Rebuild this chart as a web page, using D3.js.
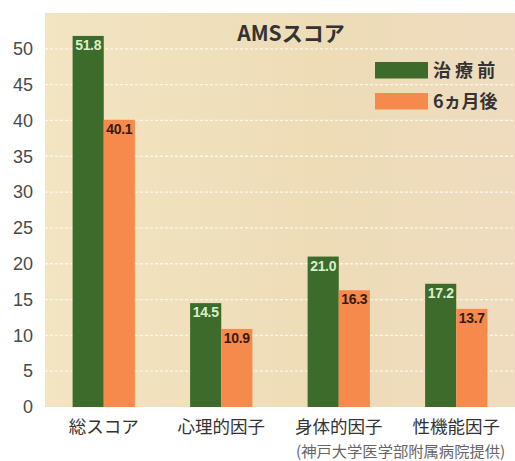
<!DOCTYPE html>
<html><head><meta charset="utf-8">
<script src="https://cdn.jsdelivr.net/npm/d3@7/dist/d3.min.js"></script>
<style>body{margin:0;background:#fff;}svg{display:block;}</style>
</head><body>
<svg id="c" width="515" height="461"></svg>
<script>
const categories = ["総スコア", "心理的因子", "身体的因子", "性機能因子"];
const seriesNames = ["治 療 前", "6ヵ月後"];
const before = [51.8, 14.5, 21.0, 17.2];
const after = [40.1, 10.9, 16.3, 13.7];
const yTicks = [0, 5, 10, 15, 20, 25, 30, 35, 40, 45, 50];
const colors = ["#3d6b2b", "#f58a4c"];

const svg = d3.select("#c");
const font = "'Noto Sans CJK JP', 'Noto Sans', sans-serif";
const L = 45, R = 515, T = 13, B = 407;

const y = d3.scaleLinear().domain([0, 55]).range([B, T]);
const x = d3.scaleBand().domain(categories).range([L, R]).paddingInner(0.47).paddingOuter(0.235);
const xs = d3.scaleBand().domain([0, 1]).range([0, x.bandwidth()]);

// background
const defs = svg.append("defs");
const g1 = defs.append("linearGradient").attr("id", "bg").attr("x1", 0).attr("x2", 1).attr("y1", 0).attr("y2", 0);
g1.append("stop").attr("offset", "0%").attr("stop-color", "#f3e4c2");
g1.append("stop").attr("offset", "60%").attr("stop-color", "#eddcb6");
g1.append("stop").attr("offset", "100%").attr("stop-color", "#efdcc0");
svg.append("rect").attr("x", L).attr("y", T).attr("width", R - L).attr("height", B - T).attr("fill", "url(#bg)");

// grid
svg.append("g").selectAll("line").data(yTicks.filter(d => d > 0)).join("line")
  .attr("x1", L).attr("x2", R).attr("y1", d => y(d)).attr("y2", d => y(d))
  .attr("stroke", "#fffaf0").attr("stroke-width", 1.3).attr("stroke-dasharray", "3,2").attr("opacity", 0.9);

// y axis
const ya = svg.append("g").attr("transform", `translate(${L},0)`)
  .call(d3.axisLeft(y).tickValues(yTicks).tickSize(0).tickPadding(12));
ya.select(".domain").remove();
ya.selectAll("text").attr("font-family", "'Liberation Sans', Arial, sans-serif").attr("font-size", 18).attr("fill", "#4a4a4a");

// x axis
const xa = svg.append("g").attr("transform", `translate(0,${B})`)
  .call(d3.axisBottom(x).tickSize(0).tickPadding(14));
xa.select(".domain").remove();
xa.selectAll("text").attr("font-family", font).attr("font-size", 17.5).attr("fill", "#333");

// bars
const data = categories.map((c, i) => ({c, v: [before[i], after[i]]}));
const grp = svg.append("g").selectAll("g").data(data).join("g")
  .attr("transform", d => `translate(${x(d.c)},0)`);
grp.selectAll("rect").data(d => d.v.map((v, k) => ({v, k}))).join("rect")
  .attr("x", d => xs(d.k)).attr("width", xs.bandwidth())
  .attr("y", d => y(d.v)).attr("height", d => B - y(d.v))
  .attr("fill", d => colors[d.k]);
grp.selectAll("text").data(d => d.v.map((v, k) => ({v, k}))).join("text")
  .attr("x", d => xs(d.k) + xs.bandwidth() / 2).attr("y", d => y(d.v) + 14)
  .attr("text-anchor", "middle")
  .attr("font-family", "'Liberation Sans Narrow', 'Liberation Sans', Arial, sans-serif")
  .attr("font-weight", "bold").attr("font-size", 14)
  .attr("letter-spacing", -0.3)
  .attr("fill", d => d.k === 0 ? "#d9f0c9" : "#3a1a0c")
  .text(d => d.v.toFixed(1));

// title
svg.append("text").attr("x", 291).attr("y", 41).attr("text-anchor", "middle")
  .attr("font-family", font).attr("font-weight", "bold").attr("font-size", 21).attr("fill", "#333")
  .text("AMSスコア");

// legend
const lg = svg.append("g");
seriesNames.forEach((n, i) => {
  const yy = 62 + i * 31;
  lg.append("rect").attr("x", 375).attr("y", yy).attr("width", 53).attr("height", 16.5).attr("fill", colors[i]);
  lg.append("text").attr("x", 433).attr("y", yy + 15).attr("font-family", font)
    .attr("font-weight", "bold").attr("font-size", 18).attr("fill", "#333").text(n);
});

// source
svg.append("text").attr("x", 296).attr("y", 457).attr("font-family", font)
  .attr("font-size", 15.3).attr("fill", "#666").text("(神戸大学医学部附属病院提供)");
</script>
</body></html>
